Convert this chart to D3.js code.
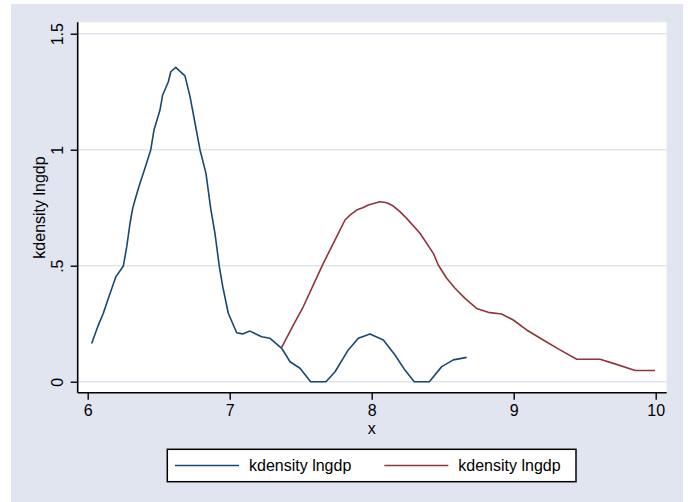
<!DOCTYPE html>
<html><head><meta charset="utf-8">
<script src="https://cdn.jsdelivr.net/npm/d3@7"></script>
<style>body{margin:0;background:#fff}svg{display:block;font-family:"Liberation Sans",Arial,sans-serif}</style>
</head><body>
<svg id="c" width="691" height="502"></svg>
<script>
const blueX=[6.028,6.075,6.11,6.145,6.199,6.251,6.275,6.298,6.317,6.333,6.361,6.399,6.444,6.467,6.509,6.528,6.568,6.585,6.62,6.685,6.72,6.756,6.791,6.833,6.866,6.896,6.927,6.951,6.99,7.049,7.09,7.143,7.225,7.284,7.366,7.425,7.495,7.57,7.678,7.742,7.835,7.906,7.988,8.082,8.164,8.234,8.3,8.406,8.493,8.575,8.669];
const blueY=[0.165,0.244,0.295,0.359,0.453,0.499,0.582,0.683,0.747,0.783,0.841,0.912,0.999,1.085,1.171,1.236,1.293,1.336,1.355,1.318,1.231,1.114,0.999,0.898,0.747,0.64,0.496,0.41,0.295,0.211,0.206,0.218,0.194,0.187,0.144,0.086,0.058,0.0,0.0,0.043,0.137,0.187,0.206,0.18,0.115,0.05,0.0,0.0,0.065,0.094,0.105];
const redX=[7.366,7.448,7.518,7.589,7.659,7.742,7.812,7.847,7.894,7.941,7.976,8.058,8.106,8.152,8.199,8.246,8.34,8.434,8.469,8.528,8.587,8.657,8.739,8.821,8.915,8.997,9.091,9.208,9.326,9.444,9.608,9.702,9.856,9.995];
const redY=[0.148,0.244,0.323,0.417,0.51,0.611,0.697,0.718,0.74,0.751,0.762,0.776,0.771,0.757,0.733,0.704,0.64,0.553,0.503,0.446,0.403,0.359,0.316,0.299,0.292,0.266,0.223,0.18,0.137,0.097,0.097,0.079,0.048,0.048];
const xTicks=[6,7,8,9,10];
const yTicks=[0,0.5,1,1.5];
const yTickLabels=["0",".5","1","1.5"];
const seriesNames=["kdensity lngdp","kdensity lngdp"];
const colors=["#1a476f","#90353b"];

const svg=d3.select("#c");
const bg="#e0e5f0";
svg.append("rect").attr("x",11).attr("y",4).attr("width",672).attr("height",498).attr("fill",bg);
const L=77.7,R=666.7,T=22.3,B=392.7;
svg.append("rect").attr("x",L).attr("y",T).attr("width",R-L).attr("height",B-T).attr("fill","#fff");

const x=d3.scaleLinear().domain([6,10]).range([87.7,655.7]);
const y=d3.scaleLinear().domain([0,1.5]).range([381.7,33.7]);

// grid
svg.append("g").selectAll("line").data(yTicks).join("line")
 .attr("x1",L).attr("x2",R).attr("y1",d=>y(d)).attr("y2",d=>y(d))
 .attr("stroke","#dfe5f0").attr("stroke-width",1.6);

// curves
const line=d3.line().x(d=>x(d[0])).y(d=>y(d[1]));
const blue=blueX.map((v,i)=>[v,blueY[i]]);
const red=redX.map((v,i)=>[v,redY[i]]);
svg.append("path").attr("d",line(red)).attr("fill","none").attr("stroke",colors[1]).attr("stroke-width",1.6).attr("stroke-linejoin","round");
svg.append("path").attr("d",line(blue)).attr("fill","none").attr("stroke",colors[0]).attr("stroke-width",1.6).attr("stroke-linejoin","round");

// axes
const ax=svg.append("g").attr("transform",`translate(0,${B})`).call(d3.axisBottom(x).tickValues(xTicks).tickSize(7).tickPadding(5).tickFormat(d3.format("d")));
ax.select(".domain").attr("d",`M${L},0H${R}`).attr("stroke","#000").attr("stroke-width",1.6);
ax.selectAll(".tick line").attr("stroke","#000").attr("stroke-width",1.4);
ax.selectAll(".tick text").attr("font-size",16).attr("fill","#000").attr("font-family","Liberation Sans, Arial, sans-serif");

const ay=svg.append("g").attr("transform",`translate(${L},0)`).call(d3.axisLeft(y).tickValues(yTicks).tickSize(7).tickFormat((d,i)=>yTickLabels[i]));
ay.select(".domain").attr("d",`M0,${T}V${B}`).attr("stroke","#000").attr("stroke-width",1.6);
ay.selectAll(".tick line").attr("stroke","#000").attr("stroke-width",1.4);
ay.selectAll(".tick text").attr("font-size",16).attr("fill","#000").attr("font-family","Liberation Sans, Arial, sans-serif")
 .attr("x",null).attr("dy",null).attr("text-anchor","middle")
 .attr("transform","translate(-14.5,0) rotate(-90)");

// titles
svg.append("text").attr("x",x(8)).attr("y",434).attr("text-anchor","middle").attr("font-size",16).text("x");
svg.append("text").attr("transform","translate(45,207.5) rotate(-90)").attr("text-anchor","middle").attr("font-size",16).text("kdensity lngdp");

// legend
svg.append("rect").attr("x",167.3).attr("y",449.3).attr("width",408.7).attr("height",32.4).attr("fill","#fff").attr("stroke","#000").attr("stroke-width",1.5);
const legX=[175,384.3];
seriesNames.forEach((n,i)=>{
  svg.append("line").attr("x1",legX[i]).attr("x2",legX[i]+64).attr("y1",465.5).attr("y2",465.5).attr("stroke",colors[i]).attr("stroke-width",1.6);
  svg.append("text").attr("x",legX[i]+74).attr("y",471).attr("font-size",16).text(n);
});
</script>
</body></html>
